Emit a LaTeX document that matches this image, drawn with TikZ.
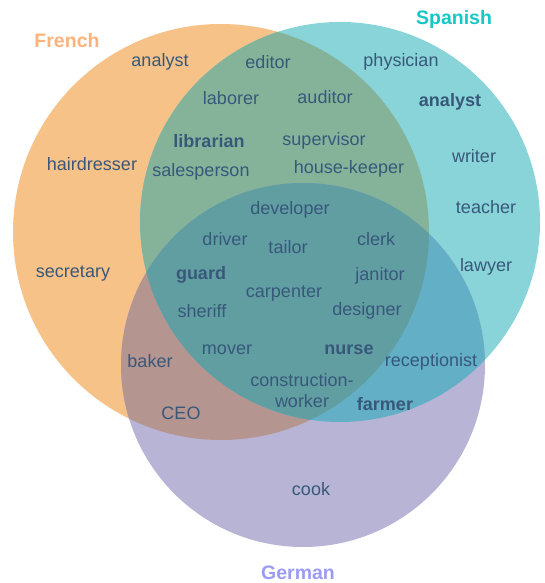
\documentclass[tikz,border=0pt]{standalone}
\usepackage{fontspec}
\setmainfont{Liberation Sans}
\definecolor{cF}{RGB}{246,194,136}
\definecolor{cS}{RGB}{137,212,216}
\definecolor{cG}{RGB}{184,180,213}
\definecolor{cFS}{RGB}{133,179,154}
\definecolor{cFG}{RGB}{181,149,144}
\definecolor{cSG}{RGB}{99,175,198}
\definecolor{cFSG}{RGB}{96,158,162}
\definecolor{txt}{RGB}{56,88,122}
\definecolor{lblF}{RGB}{252,178,122}
\definecolor{lblS}{RGB}{22,199,200}
\definecolor{lblG}{RGB}{155,155,242}
\tikzset{
  word/.style={text=txt, font=\fontsize{18}{20}\selectfont, inner sep=0pt, anchor=center, yshift=-2pt},
  bword/.style={word, font=\fontsize{18}{20}\selectfont\bfseries},
  setlabel/.style={font=\fontsize{19.5}{22}\selectfont\bfseries, inner sep=0pt, anchor=center, yshift=-1pt}
}
\begin{document}
\begin{tikzpicture}[x=1pt,y=-1pt]
\useasboundingbox (0,0) rectangle (544,583);
\def\Fc{(221,232) circle (208)}
\def\Sc{(340,222) circle (200)}
\def\Gc{(303,365) circle (182)}
% single regions
\fill[cF] \Fc;
\fill[cS] \Sc;
\fill[cG] \Gc;
% pairwise
\begin{scope}\clip \Fc; \fill[cFS] \Sc; \fill[cFG] \Gc; \end{scope}
\begin{scope}\clip \Sc; \fill[cSG] \Gc; \end{scope}
\begin{scope}\clip \Fc; \clip \Sc; \fill[cFSG] \Gc; \end{scope}
% set labels
\node[setlabel, text=lblF] (lF) at (67,40) {French};
\node[setlabel, text=lblS] (lS) at (454,18) {Spanish};
\node[setlabel, text=lblG] (lG) at (298,572) {German};
% words
\node[word] (w1) at (160,60) {analyst};
\node[word] (w2) at (268,60) {editor};
\node[word] (w3) at (401,60) {physician};
\node[word] (w4) at (231,96) {laborer};
\node[word] (w5) at (325,95) {auditor};
\node[bword] (w6) at (450,100) {analyst};
\node[bword] (w7) at (209,139) {librarian};
\node[word] (w8) at (324,139) {supervisor};
\node[word] (w9) at (474,154) {writer};
\node[word] (w10) at (92,162) {hairdresser};
\node[word] (w11) at (201,170) {salesperson};
\node[word] (w12) at (349,167) {house-keeper};
\node[word] (w13) at (290,208) {developer};
\node[word] (w14) at (486,205) {teacher};
\node[word] (w15) at (225,237) {driver};
\node[word] (w16) at (288,245) {tailor};
\node[word] (w17) at (376,237) {clerk};
\node[word] (w18) at (73,272) {secretary};
\node[bword] (w19) at (201,273) {guard};
\node[word] (w20) at (380,274) {janitor};
\node[word] (w21) at (486,265) {lawyer};
\node[word] (w22) at (284,292) {carpenter};
\node[word] (w23) at (202,309) {sheriff};
\node[word] (w24) at (367,309) {designer};
\node[word] (w25) at (150,359) {baker};
\node[word] (w26) at (227,348) {mover};
\node[bword] (w27) at (349,348) {nurse};
\node[word] (w28) at (431,360) {receptionist};
\node[word] (w29) at (302,378) {construction-};
\node[word] (w30) at (302,399) {worker};
\node[bword] (w31) at (385,402) {farmer};
\node[word] (w32) at (181,411) {CEO};
\node[word] (w33) at (311,487) {cook};
\end{tikzpicture}
\end{document}
